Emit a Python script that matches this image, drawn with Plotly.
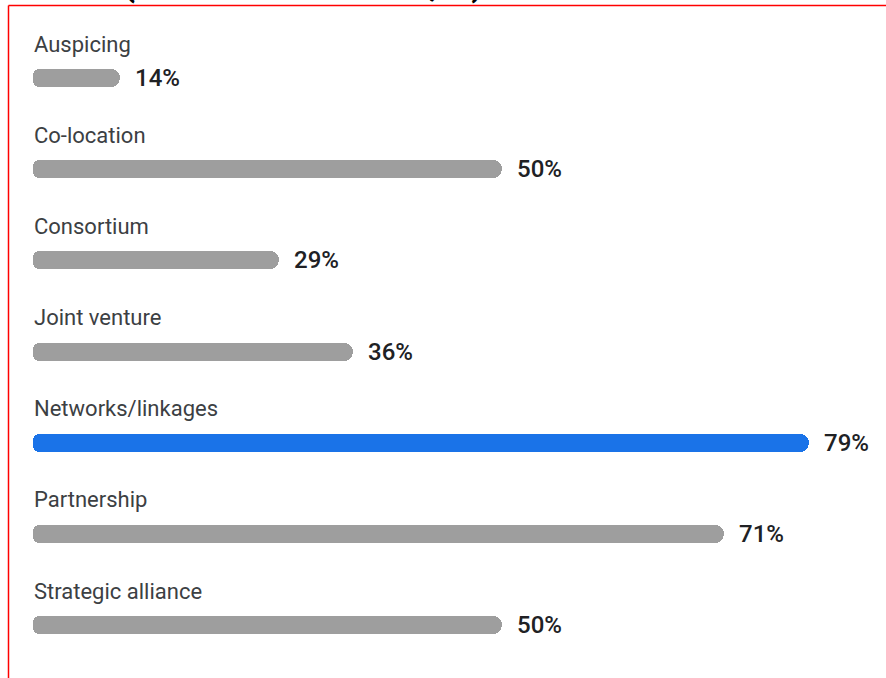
import plotly.graph_objects as go

categories = ["Auspicing", "Co-location", "Consortium", "Joint venture",
              "Networks/linkages", "Partnership", "Strategic alliance"]
percentages = [14, 50, 29, 36, 79, 71, 50]
highlight = "Networks/linkages"
title_text = "Models (number of services, %)"

W, H = 886, 678
GREY = "#9e9e9e"
BLUE = "#1a73e8"

x0_px = 33          # pixel where bars begin
px_per_pct = 10.6   # pixels per percentage point
x_start = 5.8       # axis value at bar start
xr = [x_start - x0_px / px_per_pct, x_start + (W - x0_px) / px_per_pct]
row0_px = 78
row_px = 91.17
yr = [(H - row0_px) / row_px, -row0_px / row_px]

bar_th = 18 / row_px
cap = 12 / px_per_pct
colors = [BLUE if c == highlight else GREY for c in categories]

fig = go.Figure()
fig.add_trace(go.Bar(
    orientation="h", y=categories,
    x=[v - x_start for v in percentages], base=[x_start] * len(categories),
    width=bar_th, marker=dict(color=colors, cornerradius=9, line=dict(width=0)),
    hoverinfo="skip", showlegend=False))
fig.add_trace(go.Bar(
    orientation="h", y=categories,
    x=[-cap] * len(categories), base=[x_start + cap] * len(categories),
    width=bar_th, marker=dict(color=colors, cornerradius=9, line=dict(width=0)),
    hoverinfo="skip", showlegend=False))

annotations = []
for c, v in zip(categories, percentages):
    annotations.append(dict(
        x=x_start, y=c, xref="x", yref="y", text=c, showarrow=False,
        xanchor="left", yanchor="middle", xshift=-1, yshift=34,
        font=dict(family="Roboto", size=22, color="#3c4043")))
    annotations.append(dict(
        x=v, y=c, xref="x", yref="y", text=f"{v}%", showarrow=False,
        xanchor="left", yanchor="middle", xshift=13, yshift=0,
        font=dict(family="Roboto", size=24, color="#202124", weight=500)))
annotations.append(dict(
    x=0, y=1, xref="paper", yref="paper", text=title_text,
    showarrow=False, xanchor="left", yanchor="bottom", yshift=-6,
    font=dict(family="Roboto", size=34, color="#000000", weight="bold")))

shapes = [
    dict(type="line", xref="paper", yref="paper",
         x0=8.5 / W, x1=1, y0=1 - 5.5 / H, y1=1 - 5.5 / H,
         line=dict(color="#ff0000", width=1.5)),
    dict(type="line", xref="paper", yref="paper",
         x0=8.5 / W, x1=8.5 / W, y0=1 - 5.5 / H, y1=0,
         line=dict(color="#ff0000", width=1.5)),
]

fig.update_layout(
    width=W, height=H, margin=dict(l=0, r=0, t=0, b=0),
    paper_bgcolor="white", plot_bgcolor="white",
    barmode="overlay", bargap=0,
    xaxis=dict(range=xr, visible=False, fixedrange=True),
    yaxis=dict(range=yr, visible=False, fixedrange=True,
               categoryorder="array", categoryarray=categories),
    annotations=annotations, shapes=shapes, showlegend=False,
)

fig.write_html("out.html")
